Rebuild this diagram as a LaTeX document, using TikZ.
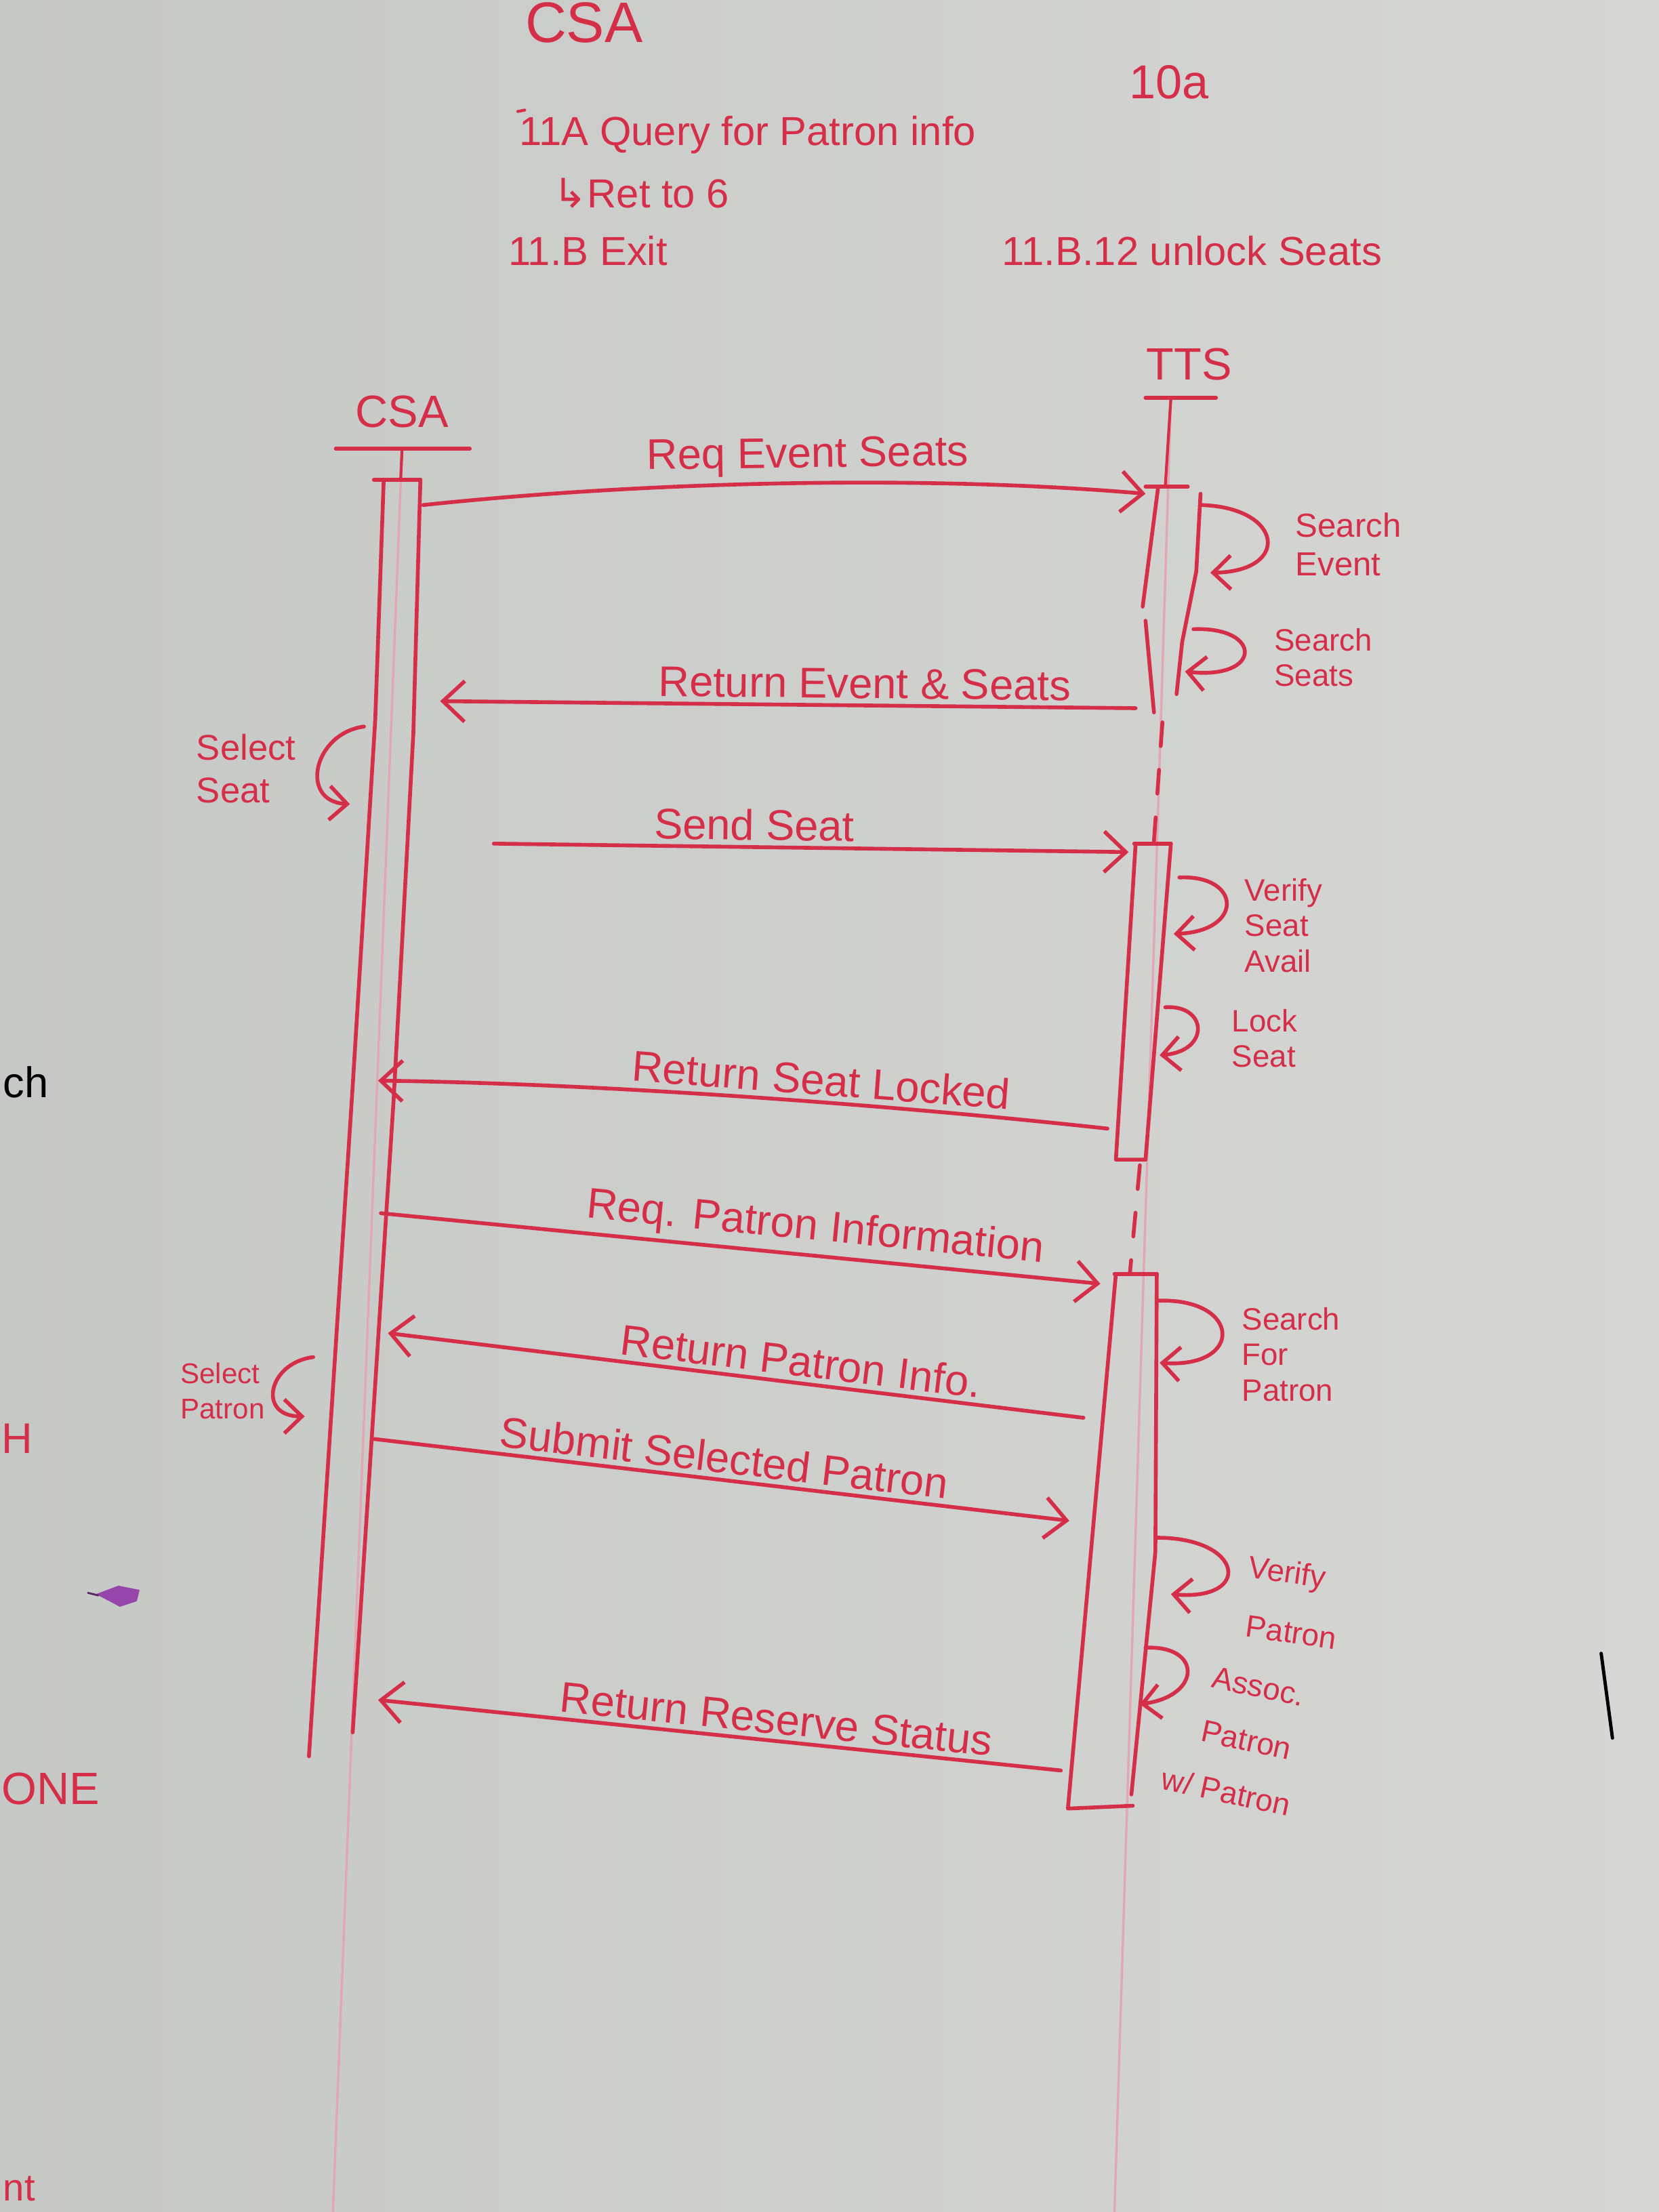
\documentclass[tikz,border=0pt]{standalone}
\usepackage{fontspec}
\setmainfont{Liberation Sans}
\newfontfamily\symfont{DejaVu Sans}
\usetikzlibrary{arrows.meta,calc}
\definecolor{boardL}{RGB}{198,200,198}
\definecolor{boardR}{RGB}{214,215,213}
\definecolor{marker}{RGB}{212,46,72}
\definecolor{faint}{RGB}{224,168,180}
\definecolor{magnetviolet}{RGB}{150,70,170}

\begin{document}
\begin{tikzpicture}[x=0.020816cm,y=-0.020816cm,
  ink/.style={draw=marker,line width=1.6pt,line cap=round,line join=round},
  msg/.style={ink,-{Straight Barb[length=3.2mm,width=6mm,line width=1.6pt]}},
  selfmsg/.style={ink,-{Straight Barb[length=2.6mm,width=5mm,line width=1.6pt]}},
  lifeline/.style={draw=faint,line width=1pt},
  gap/.style={ink,dashed,dash pattern=on 10pt off 10pt},
  lbl/.style={text=marker,inner sep=2pt,font=\fontsize{18}{20}\selectfont},
  note/.style={text=marker,align=left,anchor=west,inner sep=0pt,font=\fontsize{13}{15}\selectfont},
  noteline/.style={text=marker,anchor=base west,inner sep=0pt,font=\fontsize{13}{15}\selectfont},
  head/.style={text=marker,font=\fontsize{19}{20}\selectfont},
  top/.style={text=marker,anchor=base west,inner sep=0pt,font=\fontsize{17}{18}\selectfont},
  edge/.style={text=marker,anchor=base west,inner sep=0pt},
]
% whiteboard
\shade[left color=boardL,right color=boardR] (0,0) rectangle (1176,1568);
\useasboundingbox (0,0) rectangle (1176,1568);
\clip (0,0) rectangle (1176,1568);

% notes at the top of the board
\node[top,font=\fontsize{24}{24}\selectfont] (hdr) at (372,30) {CSA};
\node[top,font=\fontsize{20}{20}\selectfont] (n10a) at (800,70) {10a};
\draw[ink,line width=1.2pt] (367,79) -- (372,78);
\node[top] (n11a) at (368,103) {11A Query for Patron info};
\node[top] (nret) at (392,147) {{\symfont ↳}Ret to 6};
\node[top] (n11b) at (360,188) {11.B Exit};
\node[top] (n11b12) at (710,188) {11.B.12 unlock Seats};

% fragments at the edges of the board
\node[edge,text=black,font=\fontsize{18}{18}\selectfont] (frA) at (2,778) {ch};
\node[edge,font=\fontsize{18}{18}\selectfont] (frB) at (1,1030) {H};
\node[edge,font=\fontsize{19}{19}\selectfont] (frC) at (1,1279) {ONE};
\node[edge,font=\fontsize{16}{16}\selectfont] (frD) at (2,1560) {nt};
\draw[black,line width=1.4pt,line cap=round] (1135,1172) -- (1143,1232);
\fill[magnetviolet] (68,1130) -- (84,1124) -- (99,1127) -- (97,1135) -- (85,1139) -- cycle;
\draw[magnetviolet!60!black,line width=0.8pt] (62,1129) -- (70,1131);

% lifeline heads
\node[head] (csa) at (285,292) {CSA};
\draw[ink] (238,318) -- (333,318);
\node[head] (tts) at (843,258) {TTS};
\draw[ink] (812,282) -- (862,282);

% lifelines
\draw[lifeline] (285,318) -- (236,1568);
\draw[lifeline] (830,282) -- (790,1568);
\draw[ink,line width=1.2pt] (285,318) -- (284,340);
\draw[ink,line width=1.2pt] (830,282) -- (826,345);
\draw[gap] (824,512) -- (818,596);
\draw[gap] (808,826) -- (801,902);

% CSA activation
\draw[ink] (265,340) -- (298,340);
\draw[ink] (272,340) -- (266,510) -- (250,770) -- (219,1245);
\draw[ink] (298,340) -- (293,520) -- (279,780) -- (250,1228);

% TTS activations
\draw[ink] (812,345) -- (842,345);
\draw[ink] (821,345) -- (810,430);
\draw[ink] (812,440) -- (818,505);
\draw[ink] (851,350) -- (848,405) -- (838,455) -- (834,492);
\draw[ink] (804,598) -- (830,598);
\draw[ink] (805,598) -- (791,822) -- (812,822);
\draw[ink] (830,598) -- (812,822);
\draw[ink] (790,903) -- (820,903);
\draw[ink] (791,903) -- (757,1282) -- (803,1280);
\draw[ink] (820,903) -- (819,1100) -- (802,1272);

% message endpoints
\coordinate (m1s) at (300,358);  \coordinate (m1e) at (812,350);
\coordinate (m2s) at (805,502);  \coordinate (m2e) at (312,497);
\coordinate (m3s) at (350,598);  \coordinate (m3e) at (800,604);
\coordinate (m4s) at (785,800);  \coordinate (m4e) at (268,766);
\coordinate (m5s) at (270,860);  \coordinate (m5e) at (780,910);
\coordinate (m6s) at (768,1005); \coordinate (m6e) at (275,945);
\coordinate (m7s) at (265,1020); \coordinate (m7e) at (758,1078);
\coordinate (m8s) at (752,1255); \coordinate (m8e) at (268,1205);

% messages
\draw[msg] (m1s) .. controls (450,342) and (650,336) .. node[lbl,above,sloped,pos=0.54] (l1) {Req Event Seats} (m1e);
\draw[msg] (m2s) -- node[lbl,above,sloped,pos=0.39] (l2) {Return Event \& Seats} (m2e);
\draw[msg] (m3s) -- node[lbl,above,sloped,pos=0.41] (l3) {Send Seat} (m3e);
\draw[msg] (m4s) .. controls (620,782) and (420,768) .. node[lbl,above,sloped,pos=0.39] (l4) {Return Seat Locked} (m4e);
\draw[msg] (m5s) -- node[lbl,above,sloped,pos=0.6] (l5) {Req. Patron Information} (m5e);
\draw[msg] (m6s) -- node[lbl,above,sloped,pos=0.41] (l6) {Return Patron Info.} (m6e);
\draw[msg] (m7s) -- node[lbl,above,sloped,pos=0.5] (l7) {Submit Selected Patron} (m7e);
\draw[msg] (m8s) -- node[lbl,above,sloped,pos=0.42] (l8) {Return Reserve Status} (m8e);

% self calls on TTS
\coordinate (s1a) at (852,358); \coordinate (s1b) at (858,406);
\draw[selfmsg] (s1a) .. controls (910,360) and (915,405) .. (s1b);
\node[note,font=\fontsize{14}{16}\selectfont] (t1) at (918,386) {Search\\Event};
\coordinate (s2a) at (846,446); \coordinate (s2b) at (840,476);
\draw[selfmsg] (s2a) .. controls (895,444) and (895,482) .. (s2b);
\node[note] (t2) at (903,466) {Search\\Seats};
\coordinate (s3a) at (836,622); \coordinate (s3b) at (832,662);
\draw[selfmsg] (s3a) .. controls (880,620) and (882,660) .. (s3b);
\node[note] (t3) at (882,656) {Verify\\Seat\\Avail};
\coordinate (s4a) at (826,714); \coordinate (s4b) at (822,748);
\draw[selfmsg] (s4a) .. controls (856,712) and (858,745) .. (s4b);
\node[note] (t4) at (873,736) {Lock\\Seat};
\coordinate (s5a) at (821,922); \coordinate (s5b) at (822,966);
\draw[selfmsg] (s5a) .. controls (880,920) and (882,970) .. (s5b);
\node[note] (t5) at (880,960) {Search\\For\\Patron};
\coordinate (s6a) at (820,1090); \coordinate (s6b) at (830,1130);
\draw[selfmsg] (s6a) .. controls (882,1090) and (888,1135) .. (s6b);
\node[noteline,rotate=-8] (t6a) at (884,1118) {Verify};
\node[noteline,rotate=-8] (t6b) at (882,1160) {Patron};
\coordinate (s7a) at (812,1168); \coordinate (s7b) at (808,1208);
\draw[selfmsg] (s7a) .. controls (852,1166) and (852,1202) .. (s7b);
\node[noteline,rotate=-12] (t7a) at (858,1196) {Assoc.};
\node[noteline,rotate=-12] (t7b) at (850,1234) {Patron};
\node[noteline,rotate=-12] (t7c) at (822,1268) {w/ Patron};

% self calls on CSA
\coordinate (c1a) at (258,515); \coordinate (c1b) at (248,570);
\draw[selfmsg] (c1a) .. controls (222,520) and (212,568) .. (c1b);
\node[note,anchor=east,align=left,font=\fontsize{15}{18}\selectfont] (u1) at (210,545) {Select\\Seat};
\coordinate (c2a) at (222,962); \coordinate (c2b) at (216,1004);
\draw[selfmsg] (c2a) .. controls (190,966) and (182,1004) .. (c2b);
\node[note,anchor=east,font=\fontsize{12}{15}\selectfont] (u2) at (188,986) {Select\\Patron};
\end{tikzpicture}
\end{document}
